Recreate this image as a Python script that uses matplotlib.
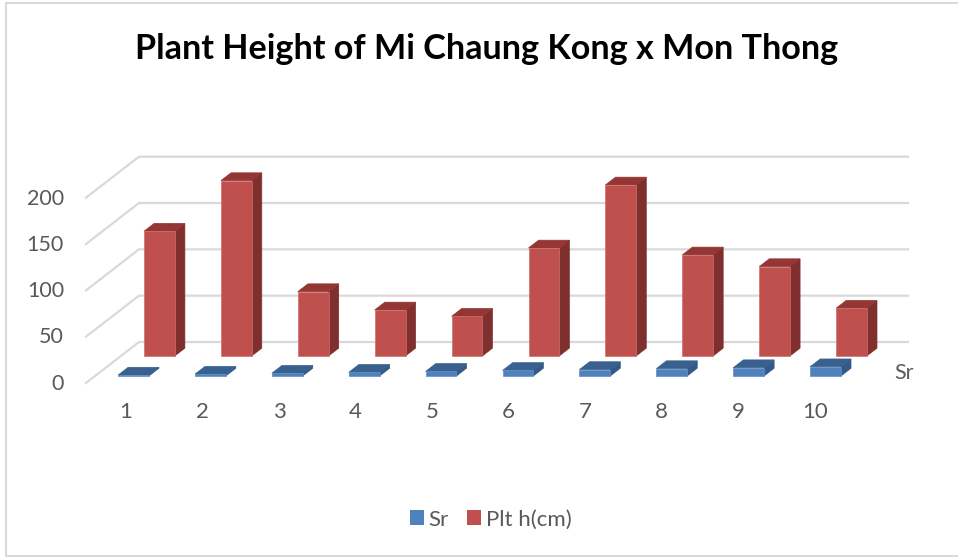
import matplotlib
matplotlib.use("Agg")
import matplotlib.pyplot as plt
from matplotlib.patches import Polygon, Patch

categories = ["1", "2", "3", "4", "5", "6", "7", "8", "9", "10"]
sr_values = [1, 2, 3, 4, 5, 6, 7, 8, 9, 10]
plant_height = [134.6, 189.2, 69.4, 49.6, 42.8, 116.5, 184.5, 109, 96.4, 51.5]
value_ticks = [0, 50, 100, 150, 200]
series_name = "Sr"
series_labels = ["Sr", "Plt h(cm)"]
title_text = "Plant Height of Mi Chaung Kong x Mon Thong"

plt.rcParams["font.family"] = ["Lato", "DejaVu Sans"]
TEXT = "#595959"
GRID = "#D9D9D9"
FRAME = "#DADADA"

# Oblique projection of the 3-D column chart onto canvas pixels.
ORIGIN_X, ORIGIN_Y = 86.0, 383.0
CAT_W = 76.9
PX_PER_UNIT = 0.9267
DEPTH_X, DEPTH_Y = 53.0, -41.0
BAR_W = 0.40       # share of a category
BAR_D = 0.19       # share of the floor depth
SERIES_DEPTH = [0.17, 0.66]


def project(cat, depth, value):
    x = ORIGIN_X + cat * CAT_W + depth * DEPTH_X
    y = ORIGIN_Y - value * PX_PER_UNIT + depth * DEPTH_Y
    return x, y


def draw_column(ax, index, depth, value, front, side, top, rim, zorder):
    x0 = index + (1 - BAR_W) / 2
    x1 = x0 + BAR_W
    d0, d1 = depth, depth + BAR_D
    faces = [
        ([(x1, d0, 0), (x1, d1, 0), (x1, d1, value), (x1, d0, value)], side, side),
        ([(x0, d0, value), (x1, d0, value), (x1, d1, value), (x0, d1, value)], top, top),
        ([(x0, d0, 0), (x1, d0, 0), (x1, d0, value), (x0, d0, value)], front, rim),
    ]
    for corners, color, edge in faces:
        ax.add_patch(Polygon([project(*c) for c in corners], closed=True,
                             facecolor=color, edgecolor=edge, linewidth=0.5,
                             zorder=zorder))


fig = plt.figure(figsize=(9.58, 5.57), dpi=100)
ax = fig.add_axes([0, 0, 1, 1])
ax.set_xlim(0, 958)
ax.set_ylim(557, 0)
ax.axis("off")

# Chart frame: open on the right-hand side of the canvas
ax.plot([958, 6, 6, 958], [3, 3, 556, 556], color=FRAME, linewidth=1.5,
        solid_joinstyle="miter", zorder=0)

# Gridlines on the side and back walls
n_cat = len(categories)
for v in value_ticks:
    p0, p1, p2 = project(0, 0, v), project(0, 1, v), project(n_cat, 1, v)
    ax.plot([p0[0], p1[0], p2[0]], [p0[1], p1[1], p2[1]], color=GRID,
            linewidth=1.6, solid_joinstyle="miter", zorder=1)
    ax.text(64, p0[1] + 0.5 + v * 0.004, str(v), ha="right", va="center",
            fontsize=15.5, color=TEXT)

for i, (sr, h) in enumerate(zip(sr_values, plant_height)):
    draw_column(ax, i, SERIES_DEPTH[1], h, "#C0504D", "#7F2F2D", "#943634",
                "#CB6F6C", 3)
    draw_column(ax, i, SERIES_DEPTH[0], sr, "#4F81BD", "#335A87", "#38618F",
                "#5F8DC4", 4)
    ax.text(126 + i * 76.55, 412, categories[i], ha="center", va="center",
            fontsize=16, color=TEXT)

ax.text(904.5, 373, series_name, ha="center", va="center", fontsize=15.5,
        color=TEXT)

fig.text(486.5 / 958, 1 - 49 / 557, title_text, ha="center", va="center",
         fontsize=24.6, fontweight="bold", color="black")

handles = [Patch(facecolor="#4F81BD", label=series_labels[0]),
           Patch(facecolor="#C0504D", label=series_labels[1])]
ax.legend(handles=handles, ncol=2, frameon=False, loc="center",
          bbox_to_anchor=(490.5 / 958, 1 - 519.5 / 557), fontsize=16,
          labelcolor=TEXT, handlelength=0.63, handleheight=0.63,
          handletextpad=0.22, columnspacing=0.8)

fig.savefig("out.png", dpi=100)
